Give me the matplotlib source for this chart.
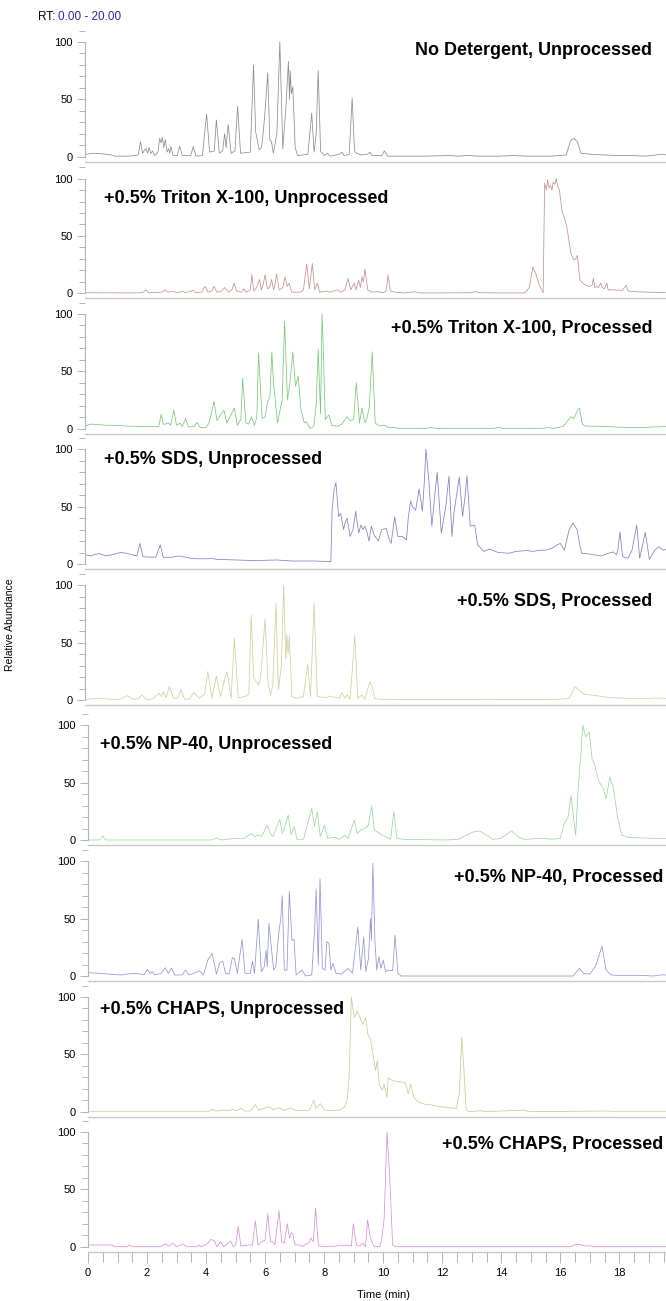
import matplotlib
matplotlib.use("Agg")
import matplotlib.pyplot as plt
from matplotlib.ticker import MultipleLocator

# retention time (min) / relative abundance pairs
no_det_rt = [0.0, 0.3, 0.6, 0.9, 1.0, 1.5, 1.8, 1.88, 1.95, 2.02, 2.07, 2.12, 2.17, 2.23, 2.29, 2.36, 2.47, 2.53, 2.58, 2.62, 2.67, 2.72, 2.78, 2.83, 2.87, 2.91, 2.98, 3.12, 3.21, 3.3, 3.58, 3.67, 3.76, 3.98, 4.05, 4.12, 4.22, 4.38, 4.45, 4.55, 4.66, 4.73, 4.78, 4.85, 4.95, 5.08, 5.17, 5.27, 5.6, 5.71, 5.78, 5.9, 5.98, 6.04, 6.1, 6.19, 6.26, 6.32, 6.38, 6.5, 6.6, 6.7, 6.8, 6.89, 6.93, 6.95, 6.99, 7.04, 7.12, 7.2, 7.55, 7.68, 7.76, 7.83, 7.9, 7.98, 8.1, 8.22, 8.3, 8.6, 8.71, 8.78, 8.95, 9.05, 9.13, 9.2, 9.34, 9.55, 9.65, 9.72, 10.05, 10.14, 10.25, 11.5, 12.4, 12.6, 13.0, 13.3, 14.0, 14.5, 15.0, 15.8, 16.3, 16.45, 16.56, 16.68, 16.8, 17.2, 17.6, 18.0, 18.5, 19.0, 19.5, 19.8, 20.0]
no_det_ab = [2, 3, 2.5, 1.5, 0.5, 0.5, 1.5, 13, 3, 6, 7, 3, 8, 3, 5, 1, 4, 16, 12, 17, 8, 15, 4, 7, 3, 9, 1, 1, 9, 1, 1, 9, 0.5, 1, 20, 37, 4, 5, 32, 3, 5, 20, 8, 28, 3, 5, 44, 3, 4, 80, 22, 6, 8, 22, 40, 73, 15, 13, 3, 20, 100, 7, 40, 83, 50, 75, 55, 61, 8, 1, 2, 38, 4, 20, 75, 5, 1, 3, 0.5, 2, 4, 1, 2, 51, 5, 3, 1.5, 2, 4, 1, 1, 5, 0.5, 0.5, 1, 0.5, 1, 0.5, 0.5, 1, 0.5, 0.5, 1.5, 14, 16, 13, 3, 2, 1.5, 1, 1, 0.5, 2, 1.5, 1]

triton_unproc_rt = [0.0, 1.5, 1.95, 2.07, 2.15, 2.4, 2.6, 2.72, 2.8, 3.0, 3.15, 3.3, 3.4, 3.65, 3.75, 3.95, 4.07, 4.17, 4.3, 4.37, 4.47, 4.6, 4.73, 4.85, 4.98, 5.05, 5.13, 5.3, 5.38, 5.45, 5.6, 5.65, 5.72, 5.83, 5.91, 5.97, 6.04, 6.1, 6.18, 6.25, 6.32, 6.39, 6.44, 6.49, 6.58, 6.7, 6.78, 6.85, 6.92, 7.0, 7.3, 7.4, 7.51, 7.6, 7.7, 7.78, 7.87, 7.95, 8.19, 8.3, 8.55, 8.65, 8.8, 8.91, 9.0, 9.12, 9.18, 9.27, 9.33, 9.38, 9.43, 9.48, 9.58, 9.7, 9.9, 10.1, 10.2, 10.27, 10.34, 10.5, 10.8, 11.18, 11.3, 12.0, 13.05, 13.22, 13.4, 14.0, 14.9, 15.05, 15.17, 15.27, 15.38, 15.45, 15.52, 15.57, 15.63, 15.67, 15.72, 15.77, 15.82, 15.86, 15.92, 15.96, 16.02, 16.07, 16.12, 16.17, 16.24, 16.32, 16.4, 16.46, 16.52, 16.56, 16.62, 16.68, 16.72, 16.76, 16.85, 16.96, 17.1, 17.18, 17.22, 17.27, 17.32, 17.4, 17.47, 17.52, 17.6, 17.68, 17.72, 17.9, 18.2, 18.33, 18.4, 18.8, 19.3, 19.7, 20.0]
triton_unproc_ab = [0.5, 0.3, 0.5, 3, 0.5, 0.8, 1, 3, 1, 1.5, 0.5, 2, 0.5, 2.5, 0.5, 1, 6, 1, 2, 6, 1, 1.5, 5, 1, 3, 9, 2, 1, 4, 1, 3, 16, 2, 6, 12, 3, 8, 16, 4, 5, 12, 3, 8, 17, 3, 5, 14, 6, 9, 1, 1, 3, 25.5, 4, 26, 3, 9, 1, 2, 1, 3, 1, 3, 13, 3, 9, 3, 11.5, 5, 14.5, 10, 21, 3, 1, 1.5, 0.5, 2, 16, 2, 1, 0.3, 1.4, 0.3, 0.3, 0.5, 1.4, 0.5, 0.3, 0.3, 5, 23, 17, 8, 4, 0.5, 96, 90, 99, 92, 94, 90, 97, 95, 100, 93, 90, 80, 70, 66, 58, 45, 35, 31, 29, 30, 33, 22, 12, 9, 7, 6, 7, 13, 5, 6, 5, 9, 5, 4, 9, 3, 3, 2.5, 7, 2, 1.2, 0.8, 0.5, 0.5]

triton_proc_rt = [0.0, 0.2, 0.5, 0.7, 1.0, 1.4, 2.3, 2.5, 2.58, 2.65, 2.72, 2.83, 2.9, 3.01, 3.1, 3.22, 3.3, 3.41, 3.5, 3.7, 3.8, 3.9, 4.1, 4.2, 4.26, 4.37, 4.47, 4.59, 4.71, 4.8, 4.95, 5.06, 5.16, 5.28, 5.34, 5.45, 5.55, 5.64, 5.74, 5.82, 5.88, 6.0, 6.1, 6.19, 6.26, 6.33, 6.38, 6.52, 6.68, 6.76, 6.86, 6.96, 7.04, 7.13, 7.22, 7.32, 7.43, 7.5, 7.62, 7.75, 7.83, 7.9, 7.98, 8.03, 8.07, 8.14, 8.26, 8.36, 8.55, 8.7, 8.88, 8.98, 9.1, 9.19, 9.3, 9.38, 9.48, 9.55, 9.63, 9.73, 9.83, 9.96, 10.13, 10.3, 10.49, 10.62, 11.55, 11.71, 11.86, 13.85, 14.01, 14.16, 15.5, 15.67, 15.85, 16.2, 16.46, 16.56, 16.68, 16.75, 16.85, 16.95, 17.5, 18.0, 18.26, 18.5, 19.0, 19.3, 19.6, 20.0]
triton_proc_ab = [2.3, 4, 3.5, 3, 3, 2.3, 1.7, 2, 12.5, 4, 4, 5, 3, 16, 3, 4.7, 2, 9, 1.5, 2, 5.5, 1, 1, 5, 11, 24, 7, 12, 16, 5, 12, 18, 3, 8, 44, 5, 4, 10.5, 3, 10, 66, 9, 10, 24, 26.5, 67, 42, 5, 25, 93.5, 25, 44, 67, 37, 46, 16, 5, 6, 0.3, 2, 20, 69, 13, 100, 72, 8, 12, 3, 2, 4, 10.5, 7, 8, 40, 5, 18, 5, 9, 19, 67, 5, 2.3, 3, 1, 1.3, 0.3, 0.3, 1.2, 0.3, 0.3, 1.2, 0.3, 0.3, 1, 0.3, 2, 10.5, 9, 16, 18, 4, 2.3, 2, 1.5, 1.2, 0.9, 1.2, 1.5, 1.8, 1.8]

sds_unproc_rt = [0.0, 0.2, 0.35, 0.5, 0.7, 0.9, 1.2, 1.4, 1.6, 1.76, 1.86, 1.96, 2.2, 2.4, 2.55, 2.65, 3.0, 3.17, 3.5, 3.6, 4.0, 4.3, 4.5, 5.0, 5.74, 6.5, 7.0, 7.8, 8.33, 8.37, 8.44, 8.5, 8.55, 8.59, 8.66, 8.76, 8.8, 8.88, 8.98, 9.08, 9.17, 9.27, 9.35, 9.42, 9.48, 9.55, 9.62, 9.7, 9.8, 9.94, 10.05, 10.2, 10.3, 10.37, 10.49, 10.6, 10.75, 10.89, 10.95, 11.03, 11.09, 11.2, 11.32, 11.43, 11.49, 11.55, 11.64, 11.75, 11.85, 11.93, 12.07, 12.22, 12.33, 12.43, 12.5, 12.58, 12.68, 12.79, 12.88, 12.94, 13.05, 13.2, 13.3, 13.51, 13.7, 13.8, 14.0, 14.37, 14.6, 14.95, 15.2, 15.38, 15.6, 15.81, 15.95, 16.1, 16.24, 16.4, 16.53, 16.67, 16.75, 16.82, 17.0, 17.25, 17.5, 17.68, 17.9, 18.0, 18.05, 18.12, 18.21, 18.4, 18.53, 18.69, 18.79, 18.98, 19.12, 19.3, 19.44, 19.6, 20.0]
sds_unproc_ab = [8, 7, 8.5, 9, 7, 8, 10, 9.4, 8, 7, 18, 6.4, 6, 6, 16.7, 5.8, 6, 7, 5.5, 4.7, 4.5, 4.7, 4, 3.6, 3, 3.5, 2.6, 2.6, 2, 47, 65, 71, 55, 41.5, 44, 30, 35, 40, 24, 30, 46, 27, 34, 30, 33, 28, 20, 33, 25, 20, 30, 31, 22, 18, 41, 24, 24, 21, 40, 55, 50, 47, 65.5, 46, 70, 100, 75, 33, 60, 80, 27, 50, 76.6, 24, 45, 59, 76, 41.5, 60, 77, 33, 34, 16.7, 11, 13, 12, 10, 9.4, 11, 11.7, 11, 12, 12, 13.7, 16, 18, 12, 30, 35.7, 30, 18, 9.4, 9, 8, 7, 9, 10.5, 8, 12, 28, 6.4, 5, 12, 34, 5, 27.5, 4, 12, 15, 12, 15]

sds_proc_rt = [0.0, 0.3, 0.49, 0.7, 0.99, 1.2, 1.42, 1.63, 1.8, 1.93, 2.07, 2.3, 2.5, 2.58, 2.65, 2.75, 2.86, 3.0, 3.15, 3.25, 3.37, 3.55, 3.68, 3.87, 4.05, 4.16, 4.3, 4.45, 4.59, 4.73, 4.81, 4.95, 5.06, 5.19, 5.42, 5.55, 5.63, 5.71, 5.88, 5.95, 6.1, 6.2, 6.29, 6.36, 6.47, 6.55, 6.65, 6.73, 6.8, 6.84, 6.88, 6.92, 7.01, 7.18, 7.4, 7.54, 7.64, 7.76, 7.87, 8.19, 8.26, 8.62, 8.71, 8.8, 8.88, 8.98, 9.14, 9.24, 9.38, 9.48, 9.6, 9.65, 9.72, 9.82, 10.06, 12.0, 13.87, 14.1, 15.9, 16.4, 16.6, 16.9, 17.26, 17.8, 18.4, 18.85, 19.3, 19.7, 20.0]
sds_proc_ab = [0.6, 1, 1.7, 1, 0.5, 0.8, 3.8, 0.6, 1, 4.4, 0.3, 1, 5.8, 3, 6.7, 2, 11.7, 1.5, 2, 9.3, 0.6, 1, 6.7, 1.5, 5, 24.8, 1.5, 21, 3, 18, 24.8, 1.5, 54, 2, 3, 5, 74, 20, 13, 20, 71, 14.6, 4.4, 13, 84.5, 9, 29, 100, 36, 57, 40, 56, 3, 1.5, 3, 31, 3, 84.5, 3, 2, 3.5, 1.5, 6.4, 1.5, 4.4, 0.6, 56, 1.5, 4.4, 0.6, 11.7, 16, 12, 1.2, 0.6, 0.3, 0.6, 0.3, 0.3, 1.5, 11.7, 5, 4, 2, 1.5, 1, 1.7, 1.5, 1.5]

np40_unproc_rt = [0.0, 0.39, 0.5, 0.6, 4.2, 4.35, 4.5, 4.92, 5.28, 5.54, 5.64, 5.78, 5.88, 6.07, 6.17, 6.26, 6.5, 6.58, 6.65, 6.78, 6.88, 6.98, 7.08, 7.3, 7.58, 7.67, 7.77, 7.87, 8.01, 8.12, 8.37, 8.52, 8.69, 8.81, 9.02, 9.12, 9.24, 9.38, 9.5, 9.61, 9.7, 9.81, 9.96, 10.08, 10.25, 10.36, 10.46, 10.68, 12.12, 12.55, 12.83, 13.05, 13.27, 13.49, 13.71, 14.0, 14.35, 14.57, 14.78, 15.43, 15.72, 16.0, 16.14, 16.26, 16.36, 16.46, 16.52, 16.6, 16.69, 16.76, 16.86, 16.98, 17.08, 17.15, 17.3, 17.44, 17.55, 17.68, 17.8, 17.94, 18.08, 18.3, 18.88, 19.32, 20.0]
np40_unproc_ab = [0, 0, 3.5, 0, 0, 1.7, 0, 1.2, 1.2, 5.8, 3, 4.3, 3, 13, 5.8, 3, 18, 5.8, 10, 21.7, 4.3, 11.6, 0.6, 0.6, 27.5, 11.6, 24.6, 3, 13, 1.5, 2.3, 0.6, 4.3, 1.5, 17.4, 5.8, 8.7, 10, 13, 29.6, 8.7, 7, 4.3, 2.9, 0.6, 25, 1.5, 0.6, 0, 0.6, 4.3, 7, 7.8, 4.3, 0.6, 1.5, 8, 2.9, 0.6, 1.5, 0.6, 1.5, 14.5, 20, 39, 17, 4, 43.5, 72.5, 100, 90, 94, 70, 67, 51, 46, 36, 55, 45, 20, 4.3, 2.3, 1.7, 1.2, 1.2]

np40_proc_rt = [0.0, 0.39, 1.1, 1.32, 1.61, 1.9, 2.01, 2.11, 2.18, 2.26, 2.47, 2.62, 2.72, 2.83, 2.94, 3.19, 3.3, 3.42, 3.63, 3.77, 3.91, 4.06, 4.2, 4.35, 4.46, 4.56, 4.66, 4.78, 4.89, 4.96, 5.06, 5.22, 5.32, 5.5, 5.57, 5.64, 5.77, 5.87, 5.97, 6.03, 6.07, 6.13, 6.22, 6.29, 6.36, 6.46, 6.53, 6.58, 6.65, 6.74, 6.82, 6.91, 6.98, 7.05, 7.25, 7.37, 7.58, 7.68, 7.73, 7.8, 7.86, 7.94, 8.03, 8.09, 8.16, 8.23, 8.3, 8.4, 8.59, 8.81, 8.96, 9.14, 9.24, 9.34, 9.41, 9.5, 9.57, 9.6, 9.65, 9.72, 9.78, 9.86, 9.92, 10.0, 10.08, 10.18, 10.32, 10.4, 10.5, 10.6, 16.43, 16.65, 16.79, 17.0, 17.21, 17.41, 17.55, 17.72, 18.0, 18.6, 19.16, 19.38, 20.0]
np40_proc_ab = [2.9, 2.3, 0.9, 1.7, 2.3, 1.2, 5.8, 2.3, 3.8, 0.9, 2.3, 7.2, 2.3, 7, 0.9, 0.9, 5.2, 0.9, 2.9, 4.6, 0.9, 14, 20, 1.7, 11.6, 13, 2.3, 1.7, 16, 15, 2.3, 32, 2.3, 2.3, 13, 2.3, 49.4, 3.8, 8, 22.5, 8, 46, 22.5, 5.2, 8, 37, 50, 70, 5.2, 5.2, 73.7, 31, 32, 0.9, 5.2, 0, 0.9, 42.8, 76, 9.5, 84.7, 6.6, 5.2, 30, 28.6, 5.2, 11, 2.3, 1.7, 6.6, 2.3, 42.8, 5.2, 34, 3.8, 15, 50, 31, 98.3, 31, 5.2, 16.8, 6.6, 14, 3.8, 5.2, 4.6, 35.5, 2.3, 0, 0, 6.6, 2.3, 1.5, 9.5, 26, 5.2, 0.9, 0.6, 0.6, 0, 0.9, 0.9]

chaps_unproc_rt = [0.0, 4.06, 4.2, 4.35, 4.56, 4.78, 4.89, 5.06, 5.18, 5.28, 5.5, 5.67, 5.78, 6.0, 6.14, 6.29, 6.36, 6.5, 6.65, 6.86, 7.0, 7.15, 7.5, 7.65, 7.72, 7.87, 8.01, 8.23, 8.52, 8.69, 8.78, 8.85, 8.92, 9.02, 9.12, 9.31, 9.41, 9.48, 9.57, 9.66, 9.74, 9.8, 9.87, 9.96, 10.03, 10.13, 10.17, 10.25, 10.39, 10.53, 10.6, 10.75, 10.85, 10.93, 11.03, 11.18, 11.4, 11.68, 11.97, 12.26, 12.48, 12.58, 12.66, 12.73, 12.81, 12.91, 13.33, 13.4, 14.78, 14.92, 17.65, 17.8, 20.0]
chaps_unproc_ab = [0, 0, 2, 0.6, 1.4, 0.9, 2, 0.6, 3.2, 0.6, 0.6, 6.3, 1.4, 3.2, 4.3, 1.4, 2.9, 3.2, 0.9, 3.4, 1.4, 0.9, 1.4, 10, 2.9, 7, 1.4, 0.9, 1.4, 4.3, 10, 33, 100, 82, 87.6, 76, 82, 67.5, 63, 49, 36, 44.5, 24, 18.7, 24, 12.4, 29.6, 28, 26.7, 26, 26, 25, 15.8, 24, 13, 8.6, 6.6, 5.7, 4.3, 3.4, 2.9, 15.8, 64.7, 38.8, 1.4, 0, 0.9, 0, 1.4, 0, 0.6, 0, 0]

chaps_proc_rt = [0.0, 0.82, 0.89, 1.32, 1.4, 1.5, 2.48, 2.55, 2.65, 2.73, 2.88, 2.99, 3.22, 3.34, 3.69, 3.74, 3.84, 4.06, 4.17, 4.27, 4.37, 4.49, 4.59, 4.75, 4.83, 4.92, 5.0, 5.09, 5.18, 5.47, 5.57, 5.67, 5.76, 5.9, 6.0, 6.09, 6.18, 6.25, 6.33, 6.47, 6.56, 6.65, 6.75, 6.83, 6.89, 6.94, 7.01, 7.2, 7.25, 7.48, 7.55, 7.63, 7.71, 7.8, 7.94, 8.4, 8.52, 8.63, 8.77, 8.92, 8.99, 9.09, 9.21, 9.31, 9.4, 9.47, 9.55, 9.61, 9.7, 9.88, 9.94, 10.03, 10.13, 10.22, 10.32, 10.42, 16.35, 16.5, 16.69, 16.83, 16.98, 17.12, 20.0]
chaps_proc_ab = [1.5, 1.5, 0, 0, 1.5, 0, 0, 1.5, 2.3, 0.6, 3, 0, 2.3, 0, 0, 1.5, 0, 3, 6.4, 5.3, 0, 4.4, 0, 3, 5, 0, 1.5, 17.5, 0.6, 1.5, 1.5, 22.5, 1.5, 4.4, 5.8, 28.7, 4.4, 4.4, 1.5, 31.3, 4.4, 3, 20, 7.3, 12.3, 11, 1.5, 1.5, 0, 3.5, 7.6, 4.4, 33.6, 1.5, 0, 0.6, 1.5, 0.6, 1.5, 0.6, 20, 1.5, 0.6, 3, 0, 23.4, 10, 4.4, 0, 0, 5, 23.4, 100, 61, 1.5, 0, 0, 2, 2, 0.6, 0.9, 0, 0]

traces = [
    (no_det_rt, no_det_ab),
    (triton_unproc_rt, triton_unproc_ab),
    (triton_proc_rt, triton_proc_ab),
    (sds_unproc_rt, sds_unproc_ab),
    (sds_proc_rt, sds_proc_ab),
    (np40_unproc_rt, np40_unproc_ab),
    (np40_proc_rt, np40_proc_ab),
    (chaps_unproc_rt, chaps_unproc_ab),
    (chaps_proc_rt, chaps_proc_ab),
]
titles = [
    "No Detergent, Unprocessed",
    "+0.5% Triton X-100, Unprocessed",
    "+0.5% Triton X-100, Processed",
    "+0.5% SDS, Unprocessed",
    "+0.5% SDS, Processed",
    "+0.5% NP-40, Unprocessed",
    "+0.5% NP-40, Processed",
    "+0.5% CHAPS, Unprocessed",
    "+0.5% CHAPS, Processed",
]
colors = ["#8c8c8c", "#c89090", "#78c878", "#8080c8", "#cfcf9f",
          "#9cd89c", "#9494d6", "#cbcb95", "#d890dc"]

# layout in pixels (figure is 666 x 1301 at dpi 100)
W, H = 666, 1301
zero_px = [156.7, 293.3, 428.7, 564, 700, 840, 976, 1111.7, 1246.7]
left_px = [85, 85, 85, 85, 85, 88, 88, 88, 88]
px_per_unit = 1.147
px_per_min = 29.52
title_pos = [(19.21, 93, "right"), (0.64, 82.6, "left"), (19.21, 87, "right"),
             (0.64, 90.7, "left"), (19.21, 86, "right"), (0.41, 83.4, "left"),
             (19.5, 86, "right"), (0.41, 89, "left"), (19.5, 88.7, "right")]

plt.rcParams["font.family"] = ["Liberation Sans", "DejaVu Sans"]
fig = plt.figure(figsize=(W / 100, H / 100), dpi=100)

ylo, yhi = -4.4, 114
for i, (rt, ab) in enumerate(traces):
    bottom_px = zero_px[i] - ylo * px_per_unit
    height_px = (yhi - ylo) * px_per_unit
    ax = fig.add_axes([left_px[i] / W, 1 - bottom_px / H,
                       20 * px_per_min / W, height_px / H])
    ax.plot(rt, ab, color=colors[i], lw=0.55)
    ax.set_xlim(0, 20)
    ax.set_ylim(ylo, yhi)
    ax.patch.set_alpha(0)
    for s in ("top", "right"):
        ax.spines[s].set_visible(False)
    ax.spines["left"].set_color("#b4b4b4")
    ax.spines["bottom"].set_color("#c8c8c8")
    ax.spines["left"].set_linewidth(0.8)
    ax.spines["bottom"].set_linewidth(1.0)
    ax.spines["left"].set_bounds(0, 100)
    ax.set_yticks([0, 50, 100])
    ax.yaxis.set_minor_locator(MultipleLocator(10))
    ax.tick_params(axis="y", which="major", length=6, width=0.7, color="#b4b4b4",
                   labelsize=8, pad=3)
    ax.tick_params(axis="y", which="minor", length=4, width=0.7, color="#b4b4b4")
    x, y, ha = title_pos[i]
    ax.text(x, y, titles[i], ha=ha, va="center", fontsize=13, fontweight="bold")
    if i < len(traces) - 1:
        ax.set_xticks([])
    else:
        ax.xaxis.set_minor_locator(MultipleLocator(0.5))
        ax.set_xticks(range(0, 20, 2))
        ax.tick_params(axis="x", which="major", length=8, width=0.7, color="#b4b4b4",
                       labelsize=8, pad=4)
        ax.tick_params(axis="x", which="minor", length=7, width=0.7, color="#b4b4b4")
        ax.set_xlabel("Time (min)", fontsize=8, labelpad=8)

fig.text(10 / W, 1 - 625 / H, "Relative Abundance", rotation=90, ha="center",
         va="center", fontsize=7.5)
fig.text(38 / W, 1 - 17 / H, "RT:", ha="left", va="center", fontsize=8.5)
fig.text(58 / W, 1 - 17 / H, "0.00 - 20.00", ha="left", va="center",
         fontsize=8.5, color="#2a2aa8")

fig.savefig("out.png", dpi=100)
